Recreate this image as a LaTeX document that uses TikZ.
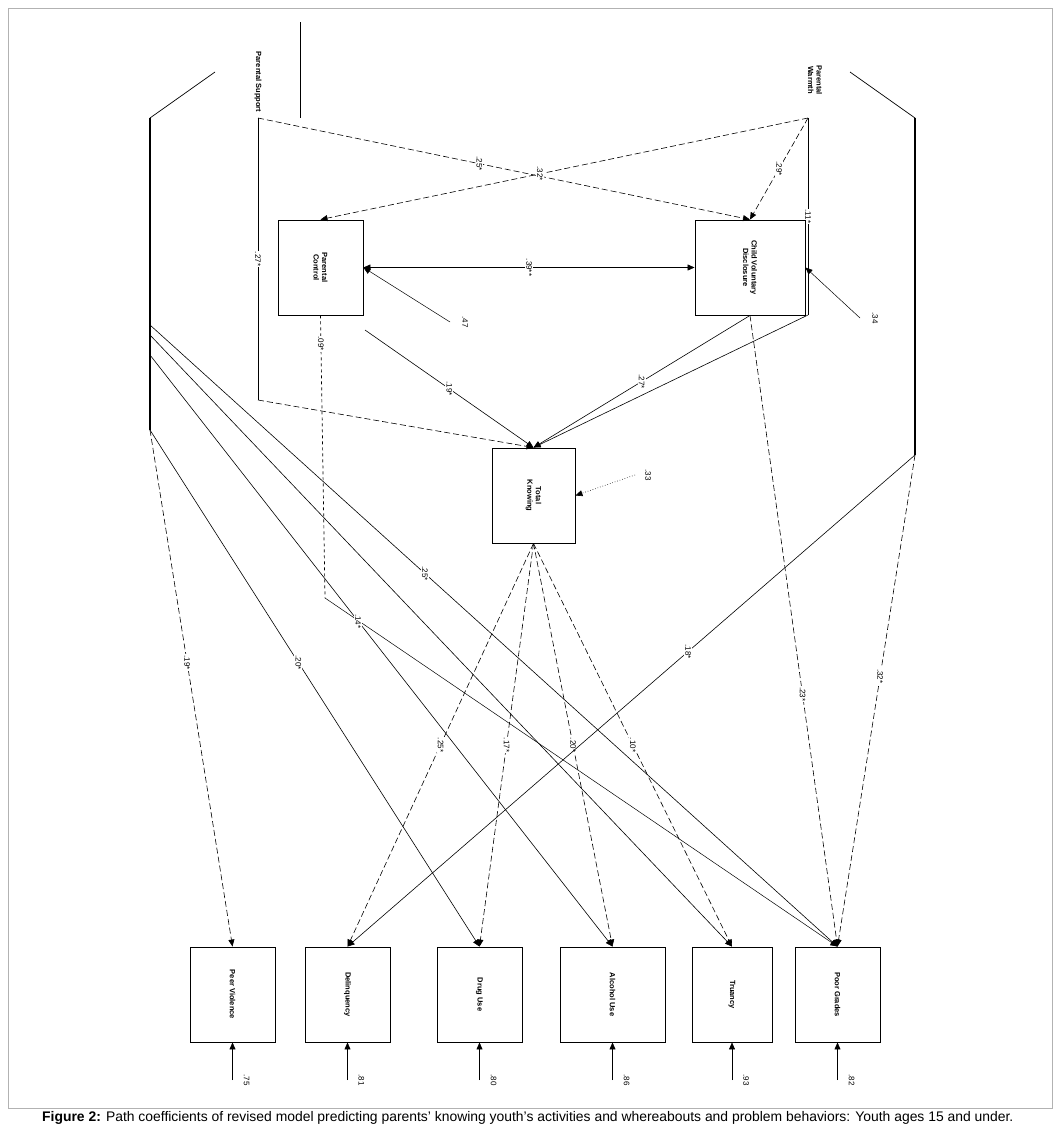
\documentclass[tikz,border=0pt]{standalone}
\usepackage{fontspec}
\setmainfont{Liberation Sans}
\usetikzlibrary{arrows.meta}
\begin{document}
\begin{tikzpicture}[x=1pt,y=-1pt,
  box/.style={draw,line width=0.9pt,minimum width=0pt,inner sep=0pt},
  btxt/.style={rotate=-90,font=\fontsize{7.5}{8.5}\selectfont\bfseries,align=center},
  lab/.style={rotate=-90,fill=white,inner sep=1pt,font=\fontsize{8}{9}\selectfont},
  arr/.style={-{Triangle[length=7pt,width=6pt]},line width=0.6pt},
  dsh/.style={arr,dashed,dash pattern=on 6pt off 3pt},
  pl/.style={line width=0.7pt}]
\useasboundingbox (0,0) rectangle (1060,1146);
\draw[gray!60] (8,8) rectangle (1052,1108);
% Parental Support shape
\draw[pl] (215,72) -- (150,118) -- (150,430);
\draw[line width=1.2pt] (150,118) -- (150,430);
\draw[pl] (300,22) -- (300,118);
\node[btxt] (ps) at (258,82) {Parental Support};
\coordinate (psa) at (258,118);
\coordinate (psb) at (258,400);
\coordinate (psl) at (150,430);
\coordinate (psl2) at (150,335);
\coordinate (psl3) at (150,355);
\coordinate (psl4) at (150,325);
\draw[pl] (psa) -- node[lab]{.27*} (psb);
% Parental Warmth shape
\draw[pl] (850,72) -- (915,118) -- (915,455);
\draw[line width=1.2pt] (915,118) -- (915,455);
\node[btxt] (pw) at (815,80) {Parental\\Warmth};
\coordinate (pwa) at (808,118);
\coordinate (pwb) at (808,315);
\coordinate (pwr) at (915,455);
\draw[pl] (pwa) -- node[lab]{.11*} (pwb);
% boxes
\node[box,minimum width=85pt,minimum height=95pt] (pc) at (320.5,267.5) {};
\node[btxt] at (pc) {Parental\\Control};
\node[box,minimum width=110pt,minimum height=95pt] (cvd) at (750,267.5) {};
\node[btxt] at (cvd) {Child Voluntary\\Disclosure};
\node[box,minimum width=83pt,minimum height=95pt] (tk) at (533.5,495.5) {};
\node[btxt] at (tk) {Total\\Knowing};
\foreach \n/\x/\w/\t/\e in {pv/232.5/85/Peer Violence/.75,dl/347.5/85/Delinquency/.81,du/479.5/85/Drug Use/.80,au/612.5/105/Alcohol Use/.86,tr/732/80/Truancy/.93,pg/837.5/85/Poor Grades/.82}{
  \node[box,minimum width=\w pt,minimum height=95pt] (\n) at (\x,994.5) {};
  \node[btxt] at (\n) {\t};
  \coordinate (\n e) at (\x,1080);
  \draw[arr,line width=0.5pt] (\n e) -- (\n.south);
  \node[btxt,font=\fontsize{8}{9}\selectfont] at (\x+14,1080) {\e};
}
% top paths
\draw[dsh] (psa) -- node[lab,pos=0.45]{.25*} (cvd.north);
\draw[dsh] (pwa) -- node[lab,pos=0.55]{.32*} (pc.north);
\draw[dsh] (pwa) -- node[lab]{.29*} (cvd.north);
\draw[arr,{Triangle[length=7pt,width=6pt]}-{Triangle[length=7pt,width=6pt]}] (pc.east) -- node[lab]{.39**} (cvd.west);
\coordinate (epc) at (450,322);
\node[btxt,font=\fontsize{8}{9}\selectfont] at (465,322) {.47};
\draw[arr,line width=0.5pt] (epc) -- (pc.east);
\coordinate (ecv) at (860,318);
\node[btxt,font=\fontsize{8}{9}\selectfont] at (875,318) {.34};
\draw[arr,line width=0.5pt] (ecv) -- (cvd.east);
\coordinate (etk) at (635,475);
\node[btxt,font=\fontsize{8}{9}\selectfont] at (648,475) {.33};
\draw[arr,dotted,line width=0.6pt] (etk) -- (tk.east);
% into Total Knowing
\draw[dsh] (psb) -- (tk.north);
\draw[arr] (365,330) -- node[lab]{.19*} (tk.north);
\draw[arr] (cvd.south) -- node[lab]{.27*} (tk.north);
\draw[arr] (pwb) -- (tk.north);
% PC downward dashed
\coordinate (pcd) at (325,598);
\draw[dashed,pl] (pc.south) -- node[lab,pos=0.1]{.09*} (pcd);
\draw[arr,line width=0.5pt] (pcd) -- (pg.north);
% CVD to poor grades
\draw[dsh] (cvd.south) -- node[lab,pos=0.6]{.23*} (pg.north);
% Total knowing to outcomes
\draw[dsh] (tk.south) -- node[lab,pos=0.5]{.25*} (dl.north);
\draw[dsh] (tk.south) -- node[lab,pos=0.5]{.17*} (du.north);
\draw[dsh] (tk.south) -- node[lab,pos=0.5]{.20*} (au.north);
\draw[dsh] (tk.south) -- node[lab,pos=0.5]{.10*} (tr.north);
% Parental support to outcomes
\draw[dsh] (psl) -- node[lab,pos=0.45]{.19*} (pv.north);
\draw[arr] (psl) -- node[lab,pos=0.45]{.20*} (du.north);
\draw[arr] (psl3) -- node[lab,pos=0.45]{.14*} (au.north);
\draw[arr] (psl4) -- node[lab,pos=0.4]{.25*} (pg.north);
\draw[arr] (psl2) -- (tr.north);
% Parental warmth to outcomes
\draw[arr] (pwr) -- node[lab,pos=0.4]{.18*} (dl.north);
\draw[dsh] (pwr) -- node[lab,pos=0.45]{.32*} (pg.north);
% caption
\node[anchor=north west,font=\fontsize{13.9}{15}\selectfont,inner sep=0pt] (cap) at (42,1111)
  {\textbf{Figure 2:} Path coefficients of revised model predicting parents' knowing youth's activities and whereabouts and problem behaviors: Youth ages 15 and under.};
\end{tikzpicture}
\end{document}
